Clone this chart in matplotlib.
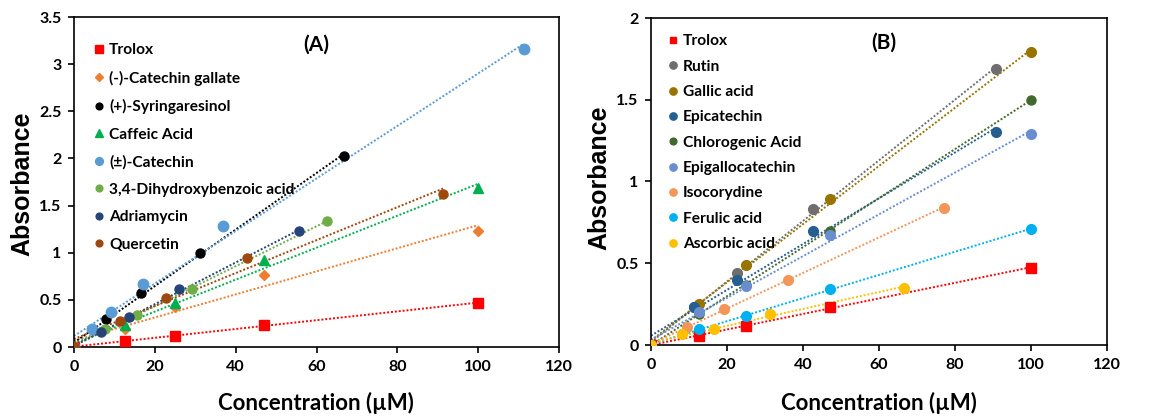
import numpy as np
import matplotlib.pyplot as plt

# --- Panel A data (concentration in uM, absorbance) ---
a_names = ['Trolox', '(-)-Catechin gallate', '(+)-Syringaresinol', 'Caffeic Acid',
           '(±)-Catechin', '3,4-Dihydroxybenzoic acid', 'Adriamycin', 'Quercetin']
a_x = [
    [0, 12.5, 25, 47, 100],
    [0, 12.5, 25, 47, 100],
    [0, 7.9, 16.5, 31.1, 66.8],
    [0, 12.5, 25, 47, 100],
    [0, 4.4, 9.1, 17.1, 36.8, 111.3],
    [0, 7.7, 15.5, 29.3, 62.7],
    [0, 6.8, 13.7, 25.9, 55.7],
    [0, 11.3, 22.7, 42.7, 91.3],
]
a_y = [
    [0, 0.064, 0.12, 0.23, 0.468],
    [0, 0.19, 0.42, 0.76, 1.23],
    [0, 0.30, 0.57, 1.00, 2.03],
    [0, 0.23, 0.47, 0.92, 1.69],
    [0, 0.195, 0.37, 0.67, 1.28, 3.16],
    [0, 0.19, 0.34, 0.62, 1.34],
    [0, 0.16, 0.32, 0.61, 1.23],
    [0, 0.28, 0.52, 0.94, 1.62],
]
a_colors = ['#FF0000', '#ED7D31', '#000000', '#00B050',
            '#5B9BD5', '#70AD47', '#264478', '#9E480E']
a_markers = ['s', 'D', 'o', '^', 'o', 'o', 'o', 'o']
a_sizes = [7, 5.5, 6.5, 7.5, 7.5, 6.5, 6.5, 6.5]

# --- Panel B data ---
b_names = ['Trolox', 'Rutin', 'Gallic acid', 'Epicatechin', 'Chlorogenic Acid',
           'Epigallocatechin', 'Isocorydine', 'Ferulic acid', 'Ascorbic acid']
b_x = [
    [0, 12.5, 25, 47, 100],
    [0, 11.3, 22.7, 42.5, 90.9],
    [0, 12.5, 25, 47, 100],
    [0, 11.3, 22.7, 42.5, 90.9],
    [0, 12.5, 25, 47, 100],
    [0, 12.5, 25, 47, 100],
    [0, 9.6, 19.1, 36.0, 77.0],
    [0, 12.5, 25, 47, 100],
    [0, 8.2, 16.5, 31.3, 66.5],
]
b_y = [
    [0, 0.055, 0.118, 0.23, 0.473],
    [0, 0.23, 0.44, 0.83, 1.69],
    [0, 0.25, 0.49, 0.89, 1.79],
    [0, 0.23, 0.40, 0.70, 1.30],
    [0, 0.19, 0.37, 0.70, 1.50],
    [0, 0.20, 0.36, 0.67, 1.29],
    [0, 0.11, 0.22, 0.40, 0.84],
    [0, 0.096, 0.18, 0.34, 0.71],
    [0, 0.065, 0.098, 0.19, 0.35],
]
b_colors = ['#FF0000', '#6E6E6E', '#997300', '#255E91', '#43682B',
            '#698ED0', '#F1975A', '#00B0F0', '#FFC000']
b_markers = ['s', 'o', 'o', 'o', 'o', 'o', 'o', 'o', 'o']
b_sizes = [6.5, 7, 7, 7, 6.5, 7, 7, 7, 7]

FONT = 'Lato'


def draw_panel(ax, names, xs, ys, colors, markers, sizes, ymax, title, title_pos, leg_anchor, leg_space):
    for name, x, y, c, m, s in zip(names, xs, ys, colors, markers, sizes):
        x = np.array(x)
        y = np.array(y)
        # linear trendline like the spreadsheet
        k, b = np.polyfit(x, y, 1)
        xf = np.array([0, x.max()])
        ax.plot(xf, k * xf + b, color=c, lw=1.4, ls=(0, (1, 1)), zorder=2)
        ax.plot(x, y, ls='none', marker=m, color=c, ms=s, mec=c, label=name, zorder=3)

    ax.set_xlim(0, 120)
    ax.set_ylim(0, ymax)
    ax.set_xticks(np.arange(0, 121, 20))
    ax.set_yticks(np.arange(0, ymax + 0.01, 0.5))
    ax.set_yticklabels(['{:g}'.format(v) for v in np.arange(0, ymax + 0.01, 0.5)])
    ax.tick_params(direction='out', length=4, width=1.2, labelsize=11.5, pad=5)
    for lab in ax.get_xticklabels() + ax.get_yticklabels():
        lab.set_fontfamily(FONT)
        lab.set_fontweight('bold')
    for sp in ax.spines.values():
        sp.set_linewidth(1.2)

    ax.text(title_pos[0], title_pos[1], title, transform=ax.transAxes, ha='center', va='center',
            fontsize=15, fontweight='bold', family=FONT)

    leg = ax.legend(loc='upper left', bbox_to_anchor=leg_anchor, frameon=False,
                    prop={'family': FONT, 'weight': 'bold', 'size': 11.2},
                    handlelength=0.6, handletextpad=0.35, labelspacing=leg_space,
                    borderpad=0, borderaxespad=0, markerscale=0.75)
    return leg


fig = plt.figure(figsize=(11.5, 4.19), dpi=100)
axA = fig.add_axes([74 / 1150, 1 - 347 / 419, 485 / 1150, 330 / 419])
axB = fig.add_axes([651 / 1150, 1 - 345 / 419, 456 / 1150, 327 / 419])

draw_panel(axA, a_names, a_x, a_y, a_colors, a_markers, a_sizes, 3.5, '(A)', (0.50, 0.915),
           (0.042, 0.92), 0.86)
draw_panel(axB, b_names, b_x, b_y, b_colors, b_markers, b_sizes, 2.0, '(B)', (0.511, 0.924),
           (0.038, 0.95), 0.73)

for xc, yc in [(22, 184), (599, 178)]:
    fig.text(xc / 1150, 1 - yc / 419, 'Absorbance', rotation=90, ha='center', va='center',
             fontsize=18, fontweight='bold', family='Liberation Sans')
for xc in [316, 879]:
    fig.text(xc / 1150, 1 - 403 / 419, 'Concentration (µM)', ha='center', va='center',
             fontsize=16, fontweight='bold', family=FONT)

fig.savefig('out.png', dpi=100)
plt.close(fig)
